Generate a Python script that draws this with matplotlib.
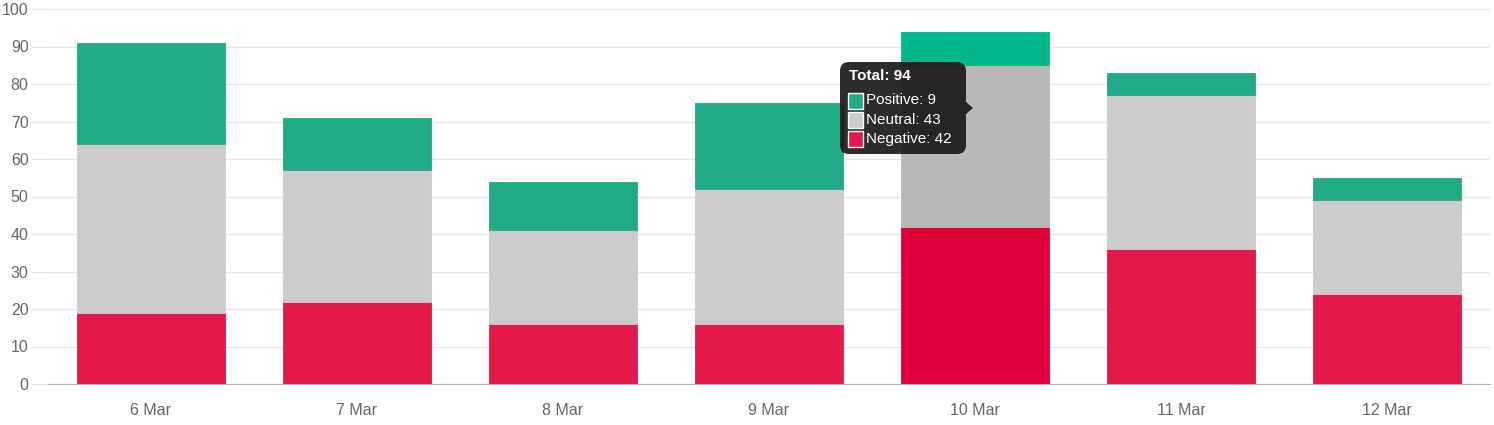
import numpy as np
import matplotlib.pyplot as plt
from matplotlib.patches import FancyBboxPatch, Polygon, Rectangle

plt.rcParams['font.family'] = ['Liberation Sans', 'DejaVu Sans']

days = ['6 Mar', '7 Mar', '8 Mar', '9 Mar', '10 Mar', '11 Mar', '12 Mar']
negative = [19, 22, 16, 16, 42, 36, 24]
neutral = [45, 35, 25, 36, 43, 41, 25]
positive = [27, 14, 13, 23, 9, 6, 6]

hover = 4  # the bar under the mouse (10 Mar)

col_pos = '#20aa88'
col_neu = '#cccccc'
col_neg = '#e4194a'
hov_pos = '#00b88a'
hov_neu = '#b8b8b8'
hov_neg = '#e0003a'

W, H = 1494, 425
fig = plt.figure(figsize=(W / 100, H / 100), dpi=100)
ax = fig.add_axes([48 / W, (H - 384) / H, (1490 - 48) / W, (384 - 9) / H])

x = np.arange(len(days))
neg = np.array(negative)
neu = np.array(neutral)
pos = np.array(positive)

c_neg = [hov_neg if i == hover else col_neg for i in x]
c_neu = [hov_neu if i == hover else col_neu for i in x]
c_pos = [hov_pos if i == hover else col_pos for i in x]

w = 0.72
ax.bar(x, neg, w, color=c_neg, edgecolor=c_neg, linewidth=0.6, zorder=2)
ax.bar(x, neu, w, bottom=neg, color=c_neu, edgecolor=c_neu, linewidth=0.6, zorder=2)
ax.bar(x, pos, w, bottom=neg + neu, color=c_pos, edgecolor=c_pos, linewidth=0.6, zorder=2)

ax.set_xlim(-0.5, len(days) - 0.5)
ax.set_ylim(0, 100)
ax.set_yticks(range(0, 101, 10))
ax.set_xticks(x)
ax.set_xticklabels(days)
ax.grid(axis='y', color='#e6e6e6', linewidth=1, zorder=0)
ax.set_axisbelow(True)
for s in ['top', 'right', 'left']:
    ax.spines[s].set_visible(False)
ax.spines['bottom'].set_color('#b3b3b3')
ax.spines['bottom'].set_zorder(3)
ax.tick_params(axis='y', length=12, color='#e6e6e6', labelcolor='#666666',
               labelsize=11.5, pad=2)
ax.tick_params(axis='x', length=0, labelcolor='#666666', labelsize=11.5, pad=14)

# tooltip
def px(xp, yp):
    return xp / W, (H - yp) / H

bx0, by0, bw, bh = 840, 62, 126, 92
box = FancyBboxPatch(px(bx0, by0 + bh), bw / W, bh / H,
                     boxstyle='round,pad=0,rounding_size=0.006',
                     transform=fig.transFigure, facecolor='#1a1a1a', alpha=0.92,
                     edgecolor='none', zorder=10, mutation_aspect=W / H)
fig.patches.append(box)
tri = Polygon([px(966, 102), px(973, 108), px(966, 114)], closed=True,
              transform=fig.transFigure, facecolor='#1a1a1a', alpha=0.92,
              edgecolor='none', zorder=10)
fig.patches.append(tri)

total = int(neg[hover] + neu[hover] + pos[hover])
fig.text(*px(849, 76), f'Total: {total}', color='white', fontsize=11,
         fontweight='bold', va='center', ha='left', zorder=11)
rows = [('Positive', pos[hover], col_pos), ('Neutral', neu[hover], col_neu),
        ('Negative', neg[hover], col_neg)]
for k, (name, val, c) in enumerate(rows):
    yc = 100.5 + 19 * k
    sq = Rectangle(px(848, yc + 8), 15 / W, 16 / H, transform=fig.transFigure,
                   facecolor=c, edgecolor='white', linewidth=1, zorder=11)
    fig.patches.append(sq)
    fig.text(*px(866, yc), f'{name}: {val}', color='white', fontsize=11,
             va='center', ha='left', zorder=11)

fig.savefig('out.png', dpi=100)
